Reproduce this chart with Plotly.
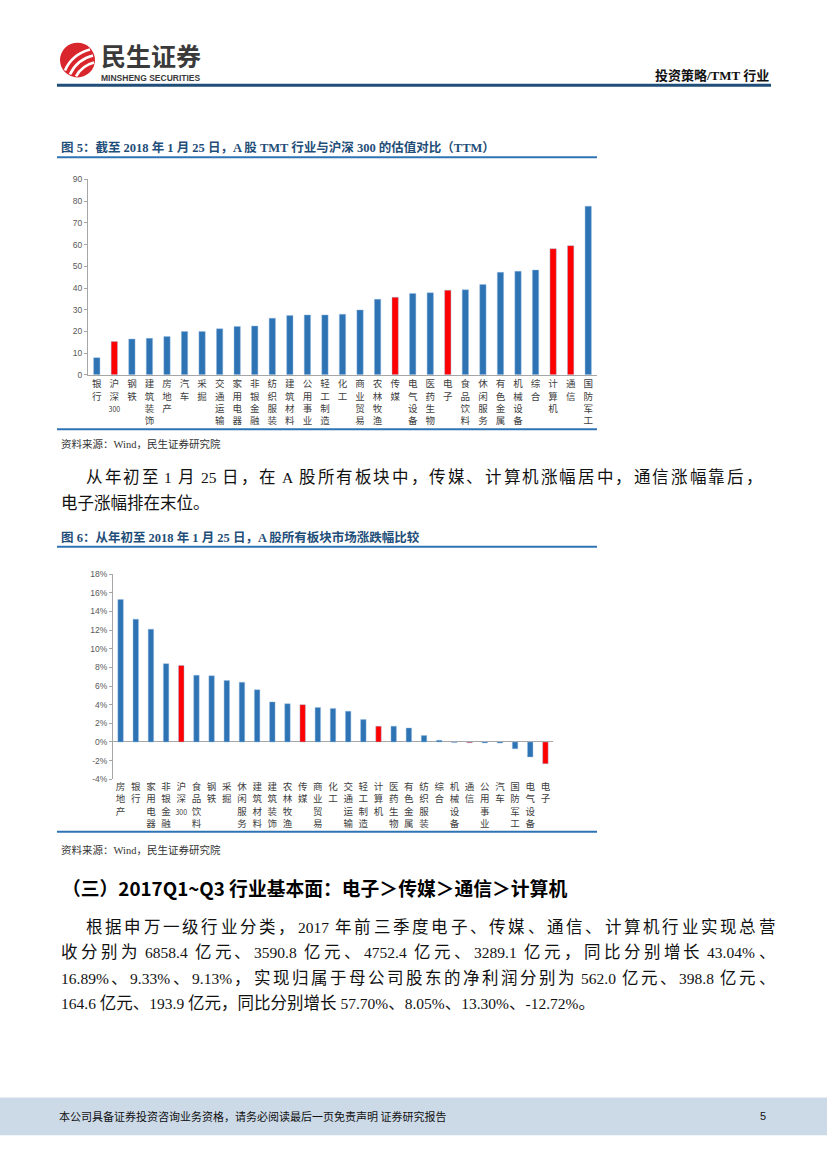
import plotly.graph_objects as go

W, H = 827, 1169

# ---------------- Data ----------------
pe_categories = ["银行", "沪深300", "钢铁", "建筑装饰", "房地产", "汽车", "采掘", "交通运输",
                 "家用电器", "非银金融", "纺织服装", "建筑材料", "公用事业", "轻工制造", "化工",
                 "商业贸易", "农林牧渔", "传媒", "电气设备", "医药生物", "电子", "食品饮料",
                 "休闲服务", "有色金属", "机械设备", "综合", "计算机", "通信", "国防军工"]
pe_values = [7.9, 15.3, 16.5, 16.8, 17.6, 20.0, 20.0, 21.2, 22.3, 22.5, 26.1, 27.3, 27.6, 27.6,
             27.9, 29.9, 34.8, 35.7, 37.5, 37.8, 39.0, 39.2, 41.6, 47.2, 47.7, 48.3, 58.1, 59.5, 77.7]

chg_categories = ["房地产", "银行", "家用电器", "非银金融", "沪深300", "食品饮料", "钢铁", "采掘",
                  "休闲服务", "建筑材料", "建筑装饰", "农林牧渔", "传媒", "商业贸易", "化工",
                  "交通运输", "轻工制造", "计算机", "医药生物", "有色金属", "纺织服装", "综合",
                  "机械设备", "通信", "公用事业", "汽车", "国防军工", "电气设备", "电子"]
chg_values = [15.27, 13.17, 12.1, 8.4, 8.2, 7.15, 7.1, 6.6, 6.4, 5.6, 4.3, 4.1, 4.0, 3.7, 3.6,
              3.3, 2.4, 1.7, 1.7, 1.5, 0.7, 0.18, -0.05, -0.08, -0.1, -0.12, -0.73, -1.6, -2.33]

highlight = ["沪深300", "传媒", "电子", "计算机", "通信"]

pe_ticks = [0, 10, 20, 30, 40, 50, 60, 70, 80, 90]
chg_ticks = [-4, -2, 0, 2, 4, 6, 8, 10, 12, 14, 16, 18]

BLUE = "#2E74B5"
RED = "#FF0000"
GRID = "#A6A6A6"
CJK = "Noto Sans CJK SC"
SERIF = "Liberation Serif, Noto Sans CJK SC"


def stack(name):
    out = []
    latin = ""
    for ch in name:
        if ch.isascii():
            latin += ch
        else:
            if latin:
                out.append("<span style='font-size:7px'>" + latin + "</span>")
                latin = ""
            out.append(ch)
    if latin:
        out.append("<span style='font-size:7px'>" + latin + "</span>")
    return "<br>".join(out)


def colors(cats):
    return [RED if c in highlight else BLUE for c in cats]


def px_x(x):
    return x / W


def px_y(y):
    return 1 - y / H


fig = go.Figure()

GLOW = dict(color="rgba(150,185,225,0.55)", width=0.8)
fig.add_trace(go.Bar(x=pe_categories, y=pe_values, marker=dict(color=colors(pe_categories),
                     line=GLOW), xaxis="x", yaxis="y", showlegend=False, hoverinfo="skip"))
fig.add_trace(go.Bar(x=chg_categories, y=chg_values, marker=dict(color=colors(chg_categories),
                     line=GLOW), xaxis="x2", yaxis="y2", showlegend=False, hoverinfo="skip"))

tickfont_x = dict(family=CJK, size=9.5, color="#404040")
tickfont_y = dict(family="Liberation Sans", size=8.5, color="#595959")

fig.update_layout(
    width=W, height=H, margin=dict(l=0, r=0, t=0, b=0),
    paper_bgcolor="white", plot_bgcolor="rgba(0,0,0,0)",
    bargap=0.64,
    xaxis=dict(domain=[px_x(88), px_x(597)], anchor="y", type="category",
               tickvals=pe_categories, ticktext=[stack(c) for c in pe_categories],
               tickfont=tickfont_x, tickangle=0, showline=True, linecolor=GRID,
               linewidth=1, ticks="", showgrid=False, fixedrange=True),
    yaxis=dict(domain=[px_y(373), px_y(176)], anchor="x", range=[0, 90],
               tickvals=pe_ticks, tickfont=tickfont_y, showline=True, linecolor=GRID,
               linewidth=1, ticks="outside", ticklen=3, tickcolor=GRID,
               showgrid=False, zeroline=False, fixedrange=True),
    xaxis2=dict(domain=[px_x(113), px_x(553)], anchor="y2", type="category",
                tickvals=chg_categories, ticktext=[stack(c) for c in chg_categories],
                tickfont=tickfont_x, tickangle=0, showline=False, ticks="",
                showgrid=False, fixedrange=True),
    yaxis2=dict(domain=[px_y(781), px_y(574)], anchor="x2", range=[-4, 18],
                tickvals=chg_ticks, ticktext=[f"{v}%" for v in chg_ticks],
                tickfont=tickfont_y, showline=True,
                linecolor=GRID, linewidth=1, ticks="outside", ticklen=3, tickcolor=GRID,
                showgrid=False, zeroline=True, zerolinecolor=GRID, zerolinewidth=1.2,
                fixedrange=True),
    xaxis3=dict(domain=[0, 1], range=[0, W], visible=False, anchor="y3", fixedrange=True),
    yaxis3=dict(domain=[0, 1], range=[H, 0], visible=False, anchor="x3", fixedrange=True),
)

shapes = []
annotations = []


def hline(x0, x1, y, color, width):
    shapes.append(dict(type="line", xref="x3", yref="y3", x0=x0, x1=x1, y0=y, y1=y,
                       line=dict(color=color, width=width)))


def text(x, y, s, size, color="#000000", family=CJK, bold=False, xanchor="left"):
    if bold:
        s = "<b>" + s + "</b>"
    annotations.append(dict(xref="x3", yref="y3", x=x, y=y, text=s, showarrow=False,
                            xanchor=xanchor, yanchor="middle",
                            font=dict(size=size, color=color, family=family)))


BODY = 16.5
LATIN = 15.5
# approximate latin advance widths (Times metrics, in em)
LAT_W = {" ": 0.25, ".": 0.25, "%": 0.833, "-": 0.333, "A": 0.722, "~": 0.541}


def tok_width(tok):
    if not tok.isascii():
        return BODY
    return sum(LAT_W.get(c, 0.5) for c in tok) * LATIN


def tokens(s):
    out = []
    cur = ""
    for ch in s:
        if ch.isascii():
            cur += ch
        else:
            if cur:
                out.append(cur)
                cur = ""
            out.append(ch)
    if cur:
        out.append(cur)
    return out


def latin_span(t):
    return "<span style='font-size:%gpx'>%s</span>" % (LATIN, t)


def body_line(x0, x1, y, s):
    toks = tokens(s)
    widths = [tok_width(t) for t in toks]
    natural = sum(widths)
    extra = (x1 - x0 - natural) / (len(toks) - 1)
    x = x0
    for t, w in zip(toks, widths):
        if t.isascii():
            lead = (len(t) - len(t.lstrip())) * LAT_W[" "] * LATIN
            text(x + lead, y, latin_span(t.strip()), BODY, "#111111", SERIF)
        else:
            text(x, y, t, BODY, "#111111", SERIF)
        x += w + extra


def body_last(x0, y, s):
    parts = [latin_span(t) if t.isascii() else t for t in tokens(s)]
    text(x0, y, "".join(parts), BODY, "#111111", SERIF)


# Header
shapes.append(dict(type="circle", xref="x3", yref="y3", x0=60, x1=95, y0=38, y1=73,
                   fillcolor="#D9262C", line=dict(width=0)))
for p in ["M 65 66 Q 72 50 90 45", "M 70 70 Q 77 55 93 51", "M 76 72 Q 82 61 94 58"]:
    shapes.append(dict(type="path", xref="x3", yref="y3", path=p,
                       line=dict(color="white", width=2.6)))
text(99, 50, "民生证券", 25, "#3A3A3A", CJK, True)
text(99, 73.5, "MINSHENG SECURITIES", 8.5, "#3A3A3A", "Liberation Sans", True)
text(771, 71, "投资策略/TMT 行业", 13, "#111111", SERIF, True, xanchor="right")
hline(57, 771, 81, "#1F4E79", 3)

# Figure 5
FIG_BLUE = "#1F4E79"
text(59, 144, "图 5：截至 2018 年 1 月 25 日，A 股 TMT 行业与沪深 300 的估值对比（TTM）",
     12.5, FIG_BLUE, SERIF, True)
hline(57, 597, 153.5, "#2E74B5", 2)
hline(57, 597, 428, "#2E74B5", 2)
text(59, 443, "资料来源：Wind，民生证券研究院", 10.5, "#333333", SERIF)

body_line(84, 760, 477, "从年初至 1 月 25 日，在 A 股所有板块中，传媒、计算机涨幅居中，通信涨幅靠后，")
body_last(59, 503, "电子涨幅排在末位。")

# Figure 6
text(59, 537, "图 6：从年初至 2018 年 1 月 25 日，A 股所有板块市场涨跌幅比较",
     12.5, FIG_BLUE, SERIF, True)
hline(57, 597, 546.5, "#2E74B5", 2)
hline(57, 597, 834, "#2E74B5", 2)
text(59, 852, "资料来源：Wind，民生证券研究院", 10.5, "#333333", SERIF)

# Section
text(60, 890, "（三）2017Q1~Q3 行业基本面：电子＞传媒＞通信＞计算机", 18.8, "#000000", CJK, True)
body_line(84, 773, 930, "根据申万一级行业分类，2017 年前三季度电子、传媒、通信、计算机行业实现总营")
body_line(59, 773, 956, "收分别为 6858.4 亿元、3590.8 亿元、4752.4 亿元、3289.1 亿元，同比分别增长 43.04%、")
body_line(59, 773, 982, "16.89%、9.33%、9.13%，实现归属于母公司股东的净利润分别为 562.0 亿元、398.8 亿元、")
body_last(59, 1007, "164.6 亿元、193.9 亿元，同比分别增长 57.70%、8.05%、13.30%、-12.72%。")

# Footer
shapes.append(dict(type="rect", xref="x3", yref="y3", x0=0, x1=W, y0=1102, y1=1140,
                   fillcolor="#CCDAE8", line=dict(width=0), layer="below"))
text(57, 1121, "本公司具备证券投资咨询业务资格，请务必阅读最后一页免责声明 证券研究报告", 11, "#111111", CJK)
text(768, 1121, "5", 11, "#111111", "Liberation Sans", xanchor="right")

fig.update_layout(shapes=shapes, annotations=annotations)

fig.write_html("out.html", config={"displayModeBar": False},
               post_script="document.body.style.margin='0';document.body.style.overflow='hidden';")
